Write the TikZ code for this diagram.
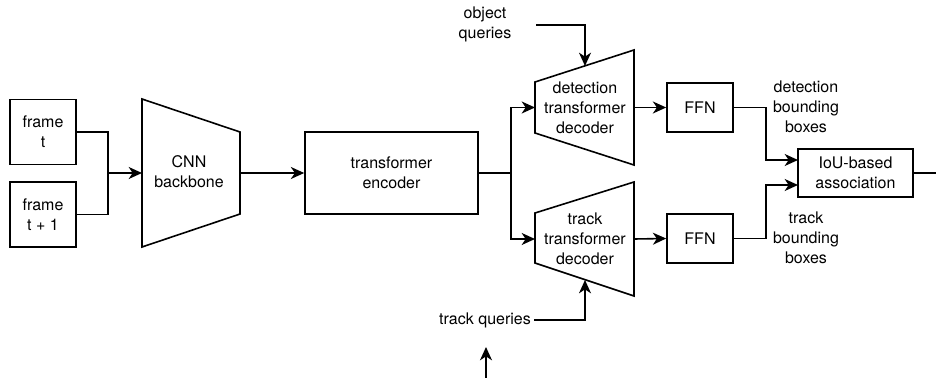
\documentclass[tikz,border=0pt]{standalone}
\usepackage{fontspec}
\setmainfont{TeX Gyre Heros}
\usetikzlibrary{arrows.meta}

\begin{document}
\begin{tikzpicture}[x=0.75pt, y=-0.75pt, >={Stealth[length=10pt,width=9pt,inset=3pt]},
    line width=1.2pt, line join=miter, font=\fontsize{12}{15}\selectfont]
    \tikzset{box/.style={draw, inner sep=0pt, align=center},
             txt/.style={align=center, inner sep=0pt}}
    \useasboundingbox (0,0) rectangle (936,378);
    \node[box, minimum width=49.5pt, minimum height=48.75pt] (ft) at (43,132) {frame\\t};
    \node[box, minimum width=49.5pt, minimum height=48.75pt] (ft1) at (43,214.5) {frame\\t + 1};
    \draw (142,99) -- (240,132) -- (240,214) -- (142,247) -- cycle;
    \node[txt] (cnn) at (189,172) {CNN\\backbone};
    \coordinate (cnn-in) at (142,173);
    \coordinate (cnn-out) at (240,173);
    \coordinate (join) at (108,173);
    \node[box, minimum width=129.75pt, minimum height=61.5pt] (enc) at (391.5,173) {transformer\\encoder};
    \draw (535,82) -- (634,50) -- (634,165) -- (535,133) -- cycle;
    \node[txt] (det) at (585,107.5) {detection\\transformer\\decoder};
    \draw (535,213) -- (634,182) -- (634,296) -- (535,263) -- cycle;
    \node[txt] (trk) at (585,238.5) {track\\transformer\\decoder};
    \coordinate (det-in) at (535,107.5);
    \coordinate (det-out) at (634,107.5);
    \coordinate (det-top) at (585,66);
    \coordinate (trk-in) at (535,239);
    \coordinate (trk-out) at (634,239);
    \coordinate (trk-bot) at (585,280);
    \coordinate (split) at (511,173);
    \node[txt] (objq) at (485,24.5) {object\\queries};
    \coordinate (objq-start) at (536,25);
    \node[txt] (trkq) at (485,320) {track queries};
    \node[box, minimum width=49.5pt, minimum height=36.75pt] (ffn1) at (700,107.5) {FFN};
    \node[box, minimum width=49.5pt, minimum height=36.75pt] (ffn2) at (700,238.5) {FFN};
    \node[txt] (detbb) at (806,107) {detection\\bounding\\boxes};
    \node[txt] (trkbb) at (806,238) {track\\bounding\\boxes};
    \node[box, minimum width=86.25pt, minimum height=36pt] (iou) at (855.5,173) {IoU-based\\association};
    \coordinate (iou-in1) at (798,160);
    \coordinate (iou-in2) at (798,185);
    \coordinate (out-end) at (936,173);
    \coordinate (stray-start) at (486,380);
    \coordinate (stray-end) at (486,347);
    \draw (ft.east) -| (join) |- (ft1.east);
    \draw[->] (join) -- (cnn-in);
    \draw[->] (cnn-out) -- (enc.west);
    \draw (enc.east) -- (split);
    \draw[->] (split) |- (det-in);
    \draw[->] (split) |- (trk-in);
    \draw[->] (objq-start) -| (det-top);
    \draw[->] ([xshift=2pt]trkq.east) -| (trk-bot);
    \draw[->] (det-out) -- (ffn1.west);
    \draw[->] (trk-out) -- (ffn2.west);
    \draw[->] (ffn1.east) -- ++(32,0) |- (iou-in1);
    \draw[->] (ffn2.east) -- ++(32,0) |- (iou-in2);
    \draw (iou.east) -- (out-end);
    \draw[->] (stray-start) -- (stray-end);
\end{tikzpicture}
\end{document}
